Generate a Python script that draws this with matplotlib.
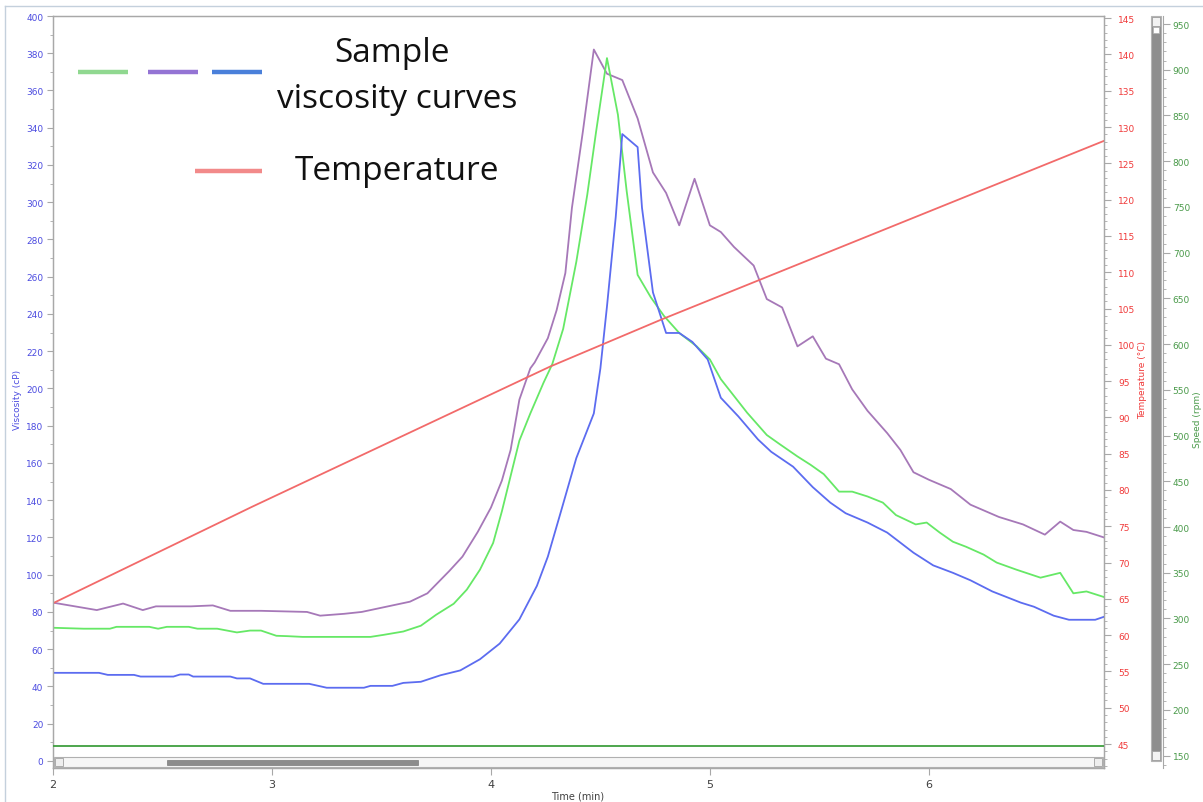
import matplotlib
matplotlib.use("Agg")
import matplotlib.pyplot as plt
from matplotlib.lines import Line2D
from matplotlib.patches import Rectangle
from matplotlib.ticker import MultipleLocator

# ---------------- data ----------------
purple_t = [2.00, 2.20, 2.32, 2.41, 2.47, 2.63, 2.73, 2.81, 2.95, 3.16, 3.22, 3.33, 3.41, 3.49,
            3.63, 3.71, 3.81, 3.87, 3.94, 4.00, 4.05, 4.09, 4.13, 4.18, 4.20, 4.26, 4.30, 4.34,
            4.37, 4.42, 4.47, 4.53, 4.60, 4.67, 4.74, 4.80, 4.86, 4.93, 5.00, 5.05, 5.11, 5.20,
            5.26, 5.33, 5.40, 5.47, 5.53, 5.59, 5.65, 5.72, 5.81, 5.87, 5.93, 6.00, 6.10, 6.19,
            6.32, 6.43, 6.53, 6.60, 6.66, 6.72, 6.80]
purple_v = [85, 81, 84.5, 81, 83, 83, 83.5, 80.6, 80.6, 80, 78, 79, 80, 82,
            85.5, 90, 102, 109.7, 123, 136, 150.5, 167, 194, 210.8, 214, 227, 242, 262,
            297, 338, 382, 369, 365.6, 345, 316, 305, 287.6, 312.6, 287.6, 284, 276, 266,
            248, 243.5, 222.6, 228, 216, 213, 199.5, 188, 176, 167, 155, 151, 146, 137.6,
            131, 127, 121.5, 128.5, 124, 123, 120]

green_t = [2.00, 2.14, 2.26, 2.29, 2.44, 2.48, 2.52, 2.62, 2.66, 2.75, 2.84, 2.90, 2.95, 3.02,
           3.07, 3.14, 3.45, 3.51, 3.60, 3.68, 3.75, 3.83, 3.89, 3.95, 4.01, 4.05, 4.09, 4.13,
           4.18, 4.24, 4.28, 4.33, 4.39, 4.44, 4.48, 4.53, 4.58, 4.62, 4.67, 4.73, 4.79, 4.86,
           4.94, 5.00, 5.05, 5.11, 5.17, 5.26, 5.32, 5.40, 5.46, 5.52, 5.59, 5.65, 5.72, 5.79,
           5.85, 5.94, 5.99, 6.05, 6.11, 6.17, 6.25, 6.31, 6.40, 6.51, 6.60, 6.66, 6.72, 6.80]
green_v = [71.5, 71, 71, 72, 72, 71, 72, 72, 71, 71, 69, 70, 70, 67.2,
           67, 66.6, 66.6, 67.7, 69.5, 72.6, 78.5, 84.4, 92, 102.7, 117, 134, 153, 172,
           186.6, 203, 213, 232, 268, 304, 337.6, 377.4, 347, 306, 261, 249, 239, 229.8,
           222.6, 215.6, 205, 196, 187, 175, 170, 163.5, 159, 154, 144.6, 144.6, 142, 138.7,
           132, 127, 128, 122.6, 117.7, 115, 110.8, 106.5, 102.7, 98.4, 101, 90, 91, 88]

blue_t = [2.00, 2.21, 2.25, 2.37, 2.40, 2.55, 2.58, 2.62, 2.64, 2.81, 2.84, 2.90, 2.96, 3.17,
          3.25, 3.42, 3.45, 3.55, 3.60, 3.68, 3.77, 3.86, 3.95, 4.04, 4.13, 4.21, 4.26, 4.32,
          4.39, 4.47, 4.50, 4.53, 4.57, 4.60, 4.67, 4.69, 4.74, 4.80, 4.86, 4.92, 4.99, 5.05,
          5.13, 5.22, 5.28, 5.38, 5.47, 5.55, 5.62, 5.72, 5.81, 5.93, 6.02, 6.11, 6.19, 6.29,
          6.42, 6.48, 6.57, 6.64, 6.76, 6.80]
blue_v = [47.3, 47.3, 46.2, 46.2, 45.3, 45.3, 46.4, 46.4, 45.3, 45.3, 44.3, 44.3, 41.4, 41.4,
          39.3, 39.3, 40.3, 40.3, 41.9, 42.5, 46, 48.6, 54.6, 63, 76, 94, 109.7, 134,
          162.6, 186.6, 210.8, 244, 292, 336.6, 329.6, 297, 251.6, 229.8, 229.8, 225, 215.6, 195,
          185, 172.6, 166, 158, 147, 138.7, 133, 128, 122.6, 111.8, 105, 101, 97, 91,
          85, 82.8, 78, 75.8, 75.8, 77.4]

temp_t = [2.00, 2.91, 4.27, 4.78, 6.80]
temp_c = [64.4, 77.7, 97.0, 103.5, 128.1]

speed_t = [2.00, 6.80]
speed_rpm = [161, 161]

x_ticks = [2, 3, 4, 5, 6]

legend_sample = ["Sample", "viscosity curves"]
legend_temp = "Temperature"

# ---------------- figure ----------------
W, H = 1203, 803
fig = plt.figure(figsize=(W / 100, H / 100), dpi=100)

def fx(x):
    return x / W

def fy(y):
    return 1 - y / H

L, R, T, B = 53, 1104, 17, 769
ax = fig.add_axes([fx(L), fy(B), (R - L) / W, (B - T) / H])

grey = "#a8a8a8"
blue_lab = "#4b4be0"
red_lab = "#f03a3a"
green_lab = "#4a9a4a"

ax.plot(purple_t, purple_v, color="#a678b8", lw=1.3, zorder=3)
ax.plot(green_t, green_v, color="#66e866", lw=1.3, zorder=3)
ax.plot(blue_t, blue_v, color="#5c6cf0", lw=1.3, zorder=3)

ax.set_xlim(2, 6.8)
ax.set_ylim(-3.8, 400)
ax.yaxis.set_major_locator(MultipleLocator(20))
ax.yaxis.set_minor_locator(MultipleLocator(10))
ax.set_xticks(x_ticks)
ax.set_xticklabels([str(v) for v in x_ticks])
ax.tick_params(axis="y", which="major", direction="out", length=4, width=0.8, color=grey,
               labelsize=6.5, labelcolor=blue_lab, pad=3)
ax.tick_params(axis="y", which="minor", direction="out", length=2, width=0.6, color=grey)
ax.tick_params(axis="x", which="major", direction="out", length=5, width=0.8, color=grey,
               labelsize=8, labelcolor="#404040", pad=3)
for s in ax.spines.values():
    s.set_color(grey)
    s.set_linewidth(0.9)

# temperature axis
ax2 = ax.twinx()
ax2.plot(temp_t, temp_c, color="#f26a6a", lw=1.3, zorder=2)
ax2.set_ylim(41.7, 145.3)
ax2.yaxis.set_major_locator(MultipleLocator(5))
ax2.yaxis.set_minor_locator(MultipleLocator(1))
ax2.tick_params(axis="y", which="major", direction="out", length=5, width=0.8, color=grey,
                labelsize=6.5, labelcolor=red_lab, pad=5)
ax2.tick_params(axis="y", which="minor", direction="out", length=2.5, width=0.6, color=grey)
for s in ax2.spines.values():
    s.set_color(grey)
    s.set_linewidth(0.9)

# speed axis
ax3 = ax.twinx()
ax3.spines["right"].set_position(("axes", (1163 - L) / (R - L)))
ax3.plot(speed_t, speed_rpm, color="#3f9f3f", lw=1.3, zorder=2)
ax3.set_ylim(136.5, 958.8)
ax3.yaxis.set_major_locator(MultipleLocator(50))
ax3.yaxis.set_minor_locator(MultipleLocator(10))
ax3.tick_params(axis="y", which="major", direction="out", length=5, width=0.8, color=grey,
                labelsize=6.5, labelcolor=green_lab, pad=2)
ax3.tick_params(axis="y", which="minor", direction="out", length=2.5, width=0.6, color=grey)
for k, s in ax3.spines.items():
    if k == "right":
        s.set_color(grey)
    else:
        s.set_visible(False)

# horizontal scrollbar (inside plot bottom)
fig.add_artist(Rectangle((fx(L + 1), fy(768)), (R - L - 2) / W, 10 / H, transform=fig.transFigure,
                         facecolor="#f6f6f6", edgecolor="#b0b0b0", lw=0.8, zorder=5))
fig.add_artist(Rectangle((fx(167), fy(766)), (418 - 167) / W, 5 / H, transform=fig.transFigure,
                         facecolor="#8c8c8c", edgecolor="#7a7a7a", lw=0.5, zorder=6))
fig.add_artist(Rectangle((fx(L + 2), fy(767)), 8 / W, 8 / H, transform=fig.transFigure,
                         facecolor="#eeeeee", edgecolor="#a0a0a0", lw=0.6, zorder=6))
fig.add_artist(Rectangle((fx(R - 10), fy(767)), 8 / W, 8 / H, transform=fig.transFigure,
                         facecolor="#eeeeee", edgecolor="#a0a0a0", lw=0.6, zorder=6))

# vertical scrollbar
fig.add_artist(Rectangle((fx(1151), fy(762)), 10 / W, (762 - 17) / H, transform=fig.transFigure,
                         facecolor="#8e8e8e", edgecolor="#b4b4b4", lw=0.8, zorder=5))
fig.add_artist(Rectangle((fx(1152), fy(27)), 8 / W, 9 / H, transform=fig.transFigure,
                         facecolor="#f2f2f2", edgecolor="#a0a0a0", lw=0.6, zorder=6))
fig.add_artist(Rectangle((fx(1153), fy(34)), 6 / W, 6 / H, transform=fig.transFigure,
                         facecolor="#ffffff", edgecolor="#b0b0b0", lw=0.5, zorder=6))
fig.add_artist(Rectangle((fx(1152), fy(761)), 8 / W, 9 / H, transform=fig.transFigure,
                         facecolor="#f2f2f2", edgecolor="#a0a0a0", lw=0.6, zorder=6))

# outer frame
fig.add_artist(Line2D([fx(5), fx(5)], [fy(7), 0], transform=fig.transFigure, color="#c4d0dc", lw=1))
fig.add_artist(Line2D([fx(5), 1], [fy(7), fy(7)], transform=fig.transFigure, color="#c4d0dc", lw=1))

# axis labels
fig.text(fx(17), fy(400), "Viscosity (cP)", rotation=90, ha="center", va="center",
         fontsize=6.5, color=blue_lab)
fig.text(fx(1143), fy(380), "Temperature (°C)", rotation=90, ha="center", va="center",
         fontsize=6.5, color=red_lab)
fig.text(fx(1197), fy(420), "Speed (rpm)", rotation=90, ha="center", va="center",
         fontsize=6.5, color=green_lab)
fig.text(fx(578), fy(797), "Time (min)", ha="center", va="center", fontsize=7, color="#404040")

# annotation legend
for (x0, x1, c) in [(78, 128, "#90d890"), (148, 198, "#9474d4"), (212, 262, "#4a80da")]:
    fig.add_artist(Line2D([fx(x0), fx(x1)], [fy(73), fy(73)], transform=fig.transFigure,
                          color=c, lw=3.2, solid_capstyle="butt"))
fig.add_artist(Line2D([fx(195), fx(262)], [fy(172), fy(172)], transform=fig.transFigure,
                      color="#f28a8a", lw=3.2, solid_capstyle="butt"))
fig.text(fx(392), fy(54), legend_sample[0], ha="center", va="center", fontsize=24,
         family="Open Sans", color="#111111")
fig.text(fx(397), fy(100), legend_sample[1], ha="center", va="center", fontsize=24,
         family="Open Sans", color="#111111")
fig.text(fx(397), fy(171), legend_temp, ha="center", va="center", fontsize=24,
         family="Open Sans", color="#111111")

fig.savefig("out.png", dpi=100)
